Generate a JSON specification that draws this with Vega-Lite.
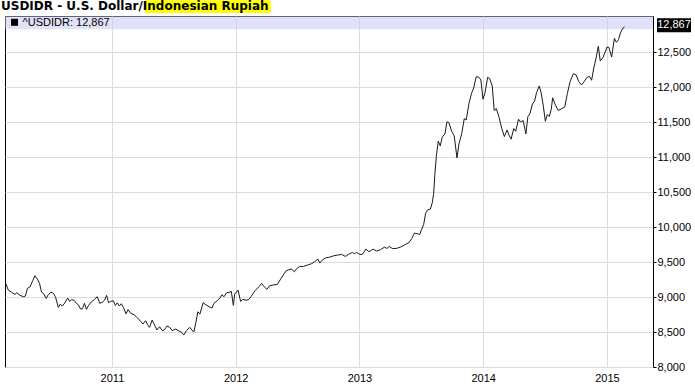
{
  "$schema": "https://vega.github.io/schema/vega-lite/v6.json",
  "width": 648,
  "height": 351,
  "autosize": {"type": "none"},
  "padding": {"left": 5, "top": 16, "right": 42, "bottom": 20},
  "background": "#ffffff",
  "config": {
    "view": {"stroke": "#000000", "strokeWidth": 1},
    "axis": {"labelFont": "Liberation Sans", "labelFontSize": 11, "labelColor": "#000000", "gridColor": "#dcdcdc", "gridWidth": 1, "domain": false}
  },
  "datasets": {
    "usdidr": [
      {"t": 2010.144, "v": 9186}, {"t": 2010.163, "v": 9100}, {"t": 2010.190, "v": 9067}, {"t": 2010.217, "v": 9038},
      {"t": 2010.231, "v": 9062}, {"t": 2010.258, "v": 9024}, {"t": 2010.285, "v": 9005}, {"t": 2010.301, "v": 9014},
      {"t": 2010.317, "v": 9124}, {"t": 2010.339, "v": 9148}, {"t": 2010.361, "v": 9238}, {"t": 2010.377, "v": 9305},
      {"t": 2010.398, "v": 9257}, {"t": 2010.415, "v": 9195}, {"t": 2010.431, "v": 9071}, {"t": 2010.447, "v": 9052},
      {"t": 2010.469, "v": 8981}, {"t": 2010.485, "v": 9033}, {"t": 2010.507, "v": 9071}, {"t": 2010.528, "v": 9052},
      {"t": 2010.545, "v": 8995}, {"t": 2010.567, "v": 8852}, {"t": 2010.583, "v": 8900}, {"t": 2010.599, "v": 8871},
      {"t": 2010.621, "v": 8919}, {"t": 2010.642, "v": 8986}, {"t": 2010.659, "v": 8938}, {"t": 2010.675, "v": 8967},
      {"t": 2010.697, "v": 8948}, {"t": 2010.713, "v": 8910}, {"t": 2010.729, "v": 8890}, {"t": 2010.746, "v": 8829},
      {"t": 2010.762, "v": 8833}, {"t": 2010.778, "v": 8910}, {"t": 2010.794, "v": 8824}, {"t": 2010.811, "v": 8881},
      {"t": 2010.833, "v": 8929}, {"t": 2010.859, "v": 8967}, {"t": 2010.881, "v": 9005}, {"t": 2010.902, "v": 8910},
      {"t": 2010.924, "v": 8929}, {"t": 2010.941, "v": 8957}, {"t": 2010.957, "v": 9024}, {"t": 2010.973, "v": 8919},
      {"t": 2010.989, "v": 8938}, {"t": 2011.011, "v": 8948}, {"t": 2011.028, "v": 8881}, {"t": 2011.044, "v": 8919},
      {"t": 2011.060, "v": 8871}, {"t": 2011.076, "v": 8905}, {"t": 2011.093, "v": 8852}, {"t": 2011.114, "v": 8760},
      {"t": 2011.130, "v": 8820}, {"t": 2011.152, "v": 8767}, {"t": 2011.179, "v": 8748}, {"t": 2011.207, "v": 8700},
      {"t": 2011.233, "v": 8652}, {"t": 2011.250, "v": 8614}, {"t": 2011.272, "v": 8662}, {"t": 2011.288, "v": 8605},
      {"t": 2011.304, "v": 8567}, {"t": 2011.325, "v": 8671}, {"t": 2011.341, "v": 8614}, {"t": 2011.363, "v": 8529},
      {"t": 2011.385, "v": 8576}, {"t": 2011.407, "v": 8519}, {"t": 2011.423, "v": 8529}, {"t": 2011.445, "v": 8586},
      {"t": 2011.467, "v": 8567}, {"t": 2011.488, "v": 8519}, {"t": 2011.515, "v": 8543}, {"t": 2011.542, "v": 8514},
      {"t": 2011.564, "v": 8495}, {"t": 2011.580, "v": 8457}, {"t": 2011.602, "v": 8519}, {"t": 2011.629, "v": 8567},
      {"t": 2011.646, "v": 8529}, {"t": 2011.662, "v": 8500}, {"t": 2011.678, "v": 8633}, {"t": 2011.694, "v": 8790},
      {"t": 2011.711, "v": 8757}, {"t": 2011.737, "v": 8919}, {"t": 2011.759, "v": 8890}, {"t": 2011.786, "v": 8862},
      {"t": 2011.808, "v": 8843}, {"t": 2011.824, "v": 8910}, {"t": 2011.851, "v": 8948}, {"t": 2011.873, "v": 8986},
      {"t": 2011.889, "v": 9033}, {"t": 2011.906, "v": 9005}, {"t": 2011.927, "v": 9062}, {"t": 2011.954, "v": 9071},
      {"t": 2011.965, "v": 9081}, {"t": 2011.981, "v": 8881}, {"t": 2011.992, "v": 9043}, {"t": 2012.019, "v": 9100},
      {"t": 2012.040, "v": 8938}, {"t": 2012.056, "v": 8967}, {"t": 2012.083, "v": 8957}, {"t": 2012.103, "v": 8960},
      {"t": 2012.125, "v": 9010}, {"t": 2012.156, "v": 9090}, {"t": 2012.188, "v": 9148}, {"t": 2012.210, "v": 9195},
      {"t": 2012.230, "v": 9148}, {"t": 2012.252, "v": 9110}, {"t": 2012.273, "v": 9162}, {"t": 2012.299, "v": 9171},
      {"t": 2012.337, "v": 9181}, {"t": 2012.363, "v": 9257}, {"t": 2012.384, "v": 9314}, {"t": 2012.405, "v": 9371},
      {"t": 2012.426, "v": 9390}, {"t": 2012.452, "v": 9400}, {"t": 2012.474, "v": 9362}, {"t": 2012.490, "v": 9400},
      {"t": 2012.516, "v": 9438}, {"t": 2012.548, "v": 9438}, {"t": 2012.579, "v": 9457}, {"t": 2012.611, "v": 9476},
      {"t": 2012.638, "v": 9505}, {"t": 2012.664, "v": 9543}, {"t": 2012.680, "v": 9486}, {"t": 2012.702, "v": 9533},
      {"t": 2012.728, "v": 9562}, {"t": 2012.760, "v": 9571}, {"t": 2012.791, "v": 9590}, {"t": 2012.823, "v": 9600},
      {"t": 2012.855, "v": 9610}, {"t": 2012.887, "v": 9581}, {"t": 2012.918, "v": 9619}, {"t": 2012.944, "v": 9638},
      {"t": 2012.960, "v": 9619}, {"t": 2012.976, "v": 9638}, {"t": 2013.003, "v": 9610}, {"t": 2013.024, "v": 9610},
      {"t": 2013.052, "v": 9686}, {"t": 2013.078, "v": 9648}, {"t": 2013.110, "v": 9686}, {"t": 2013.137, "v": 9657},
      {"t": 2013.169, "v": 9676}, {"t": 2013.202, "v": 9714}, {"t": 2013.223, "v": 9695}, {"t": 2013.240, "v": 9724},
      {"t": 2013.266, "v": 9695}, {"t": 2013.298, "v": 9695}, {"t": 2013.331, "v": 9714}, {"t": 2013.363, "v": 9743},
      {"t": 2013.401, "v": 9781}, {"t": 2013.423, "v": 9838}, {"t": 2013.444, "v": 9914}, {"t": 2013.471, "v": 9905},
      {"t": 2013.487, "v": 9895}, {"t": 2013.503, "v": 9971}, {"t": 2013.519, "v": 10038}, {"t": 2013.535, "v": 10200},
      {"t": 2013.552, "v": 10248}, {"t": 2013.573, "v": 10257}, {"t": 2013.589, "v": 10352}, {"t": 2013.600, "v": 10486},
      {"t": 2013.610, "v": 10771}, {"t": 2013.621, "v": 11010}, {"t": 2013.637, "v": 11229}, {"t": 2013.653, "v": 11162},
      {"t": 2013.669, "v": 11286}, {"t": 2013.691, "v": 11333}, {"t": 2013.707, "v": 11505}, {"t": 2013.723, "v": 11495},
      {"t": 2013.745, "v": 11371}, {"t": 2013.766, "v": 11305}, {"t": 2013.788, "v": 10990}, {"t": 2013.804, "v": 11190},
      {"t": 2013.826, "v": 11333}, {"t": 2013.847, "v": 11552}, {"t": 2013.863, "v": 11533}, {"t": 2013.885, "v": 11771},
      {"t": 2013.906, "v": 11914}, {"t": 2013.923, "v": 11990}, {"t": 2013.944, "v": 12152}, {"t": 2013.965, "v": 12143},
      {"t": 2013.981, "v": 12105}, {"t": 2013.998, "v": 11829}, {"t": 2014.014, "v": 11914}, {"t": 2014.036, "v": 12143},
      {"t": 2014.052, "v": 12124}, {"t": 2014.073, "v": 12019}, {"t": 2014.089, "v": 11667}, {"t": 2014.106, "v": 11695},
      {"t": 2014.128, "v": 11571}, {"t": 2014.150, "v": 11410}, {"t": 2014.171, "v": 11295}, {"t": 2014.193, "v": 11390},
      {"t": 2014.209, "v": 11314}, {"t": 2014.225, "v": 11257}, {"t": 2014.247, "v": 11410}, {"t": 2014.263, "v": 11371},
      {"t": 2014.285, "v": 11543}, {"t": 2014.301, "v": 11505}, {"t": 2014.323, "v": 11524}, {"t": 2014.345, "v": 11333},
      {"t": 2014.361, "v": 11581}, {"t": 2014.377, "v": 11619}, {"t": 2014.398, "v": 11762}, {"t": 2014.415, "v": 11800},
      {"t": 2014.431, "v": 11924}, {"t": 2014.453, "v": 12019}, {"t": 2014.469, "v": 11914}, {"t": 2014.485, "v": 11743},
      {"t": 2014.502, "v": 11514}, {"t": 2014.518, "v": 11610}, {"t": 2014.534, "v": 11581}, {"t": 2014.550, "v": 11686},
      {"t": 2014.561, "v": 11850}, {"t": 2014.580, "v": 11760}, {"t": 2014.605, "v": 11670}, {"t": 2014.632, "v": 11690},
      {"t": 2014.659, "v": 11719}, {"t": 2014.680, "v": 11910}, {"t": 2014.702, "v": 12081}, {"t": 2014.729, "v": 12195},
      {"t": 2014.751, "v": 12176}, {"t": 2014.772, "v": 12081}, {"t": 2014.794, "v": 12033}, {"t": 2014.816, "v": 12081},
      {"t": 2014.837, "v": 12138}, {"t": 2014.859, "v": 12157}, {"t": 2014.876, "v": 12100}, {"t": 2014.892, "v": 12262},
      {"t": 2014.914, "v": 12433}, {"t": 2014.930, "v": 12586}, {"t": 2014.946, "v": 12376}, {"t": 2014.967, "v": 12424},
      {"t": 2014.989, "v": 12519}, {"t": 2015.000, "v": 12576}, {"t": 2015.016, "v": 12567}, {"t": 2015.038, "v": 12433},
      {"t": 2015.060, "v": 12700}, {"t": 2015.076, "v": 12643}, {"t": 2015.093, "v": 12681}, {"t": 2015.109, "v": 12776},
      {"t": 2015.125, "v": 12833}, {"t": 2015.141, "v": 12867}
    ]
  },
  "layer": [
    {
      "data": {"values": [{}]},
      "mark": {"type": "rect", "fill": "#c3c3f0", "opacity": 0.5, "clip": false},
      "encoding": {
        "x": {"datum": 2010.136, "type": "quantitative", "scale": {"domain": [2010.136, 2015.372], "nice": false, "zero": false}, "axis": {"title": null, "values": [2011, 2012, 2013, 2014, 2015], "format": "d", "grid": true, "ticks": false, "labelPadding": 5}},
        "x2": {"datum": 2015.372},
        "y": {"datum": 12829, "type": "quantitative", "scale": {"domain": [8000, 13019], "nice": false, "zero": false}, "axis": {"title": null, "orient": "right", "values": [8000, 8500, 9000, 9500, 10000, 10500, 11000, 11500, 12000, 12500], "format": ",.0f", "grid": true, "ticks": true, "tickSize": 3, "tickColor": "#000000", "labelPadding": 1}},
        "y2": {"datum": 13019}
      }
    },
    {
      "data": {"name": "usdidr"},
      "mark": {"type": "line", "color": "#1a1a1a", "strokeWidth": 1},
      "encoding": {
        "x": {"field": "t", "type": "quantitative", "scale": {"domain": [2010.136, 2015.372], "nice": false, "zero": false}, "axis": {"title": null, "values": [2011, 2012, 2013, 2014, 2015], "format": "d", "grid": true, "ticks": false, "labelPadding": 5}},
        "y": {"field": "v", "type": "quantitative", "scale": {"domain": [8000, 13019], "nice": false, "zero": false}, "axis": {"title": null, "orient": "right", "values": [8000, 8500, 9000, 9500, 10000, 10500, 11000, 11500, 12000, 12500], "format": ",.0f", "grid": true, "ticks": true, "tickSize": 3, "tickColor": "#000000", "labelPadding": 1}}
      }
    },
    {
      "data": {"values": [{}]},
      "mark": {"type": "point", "shape": "square", "filled": true, "size": 49, "color": "#000000", "opacity": 1, "clip": false},
      "encoding": {
        "x": {"datum": 2010.213, "type": "quantitative", "scale": {"domain": [2010.136, 2015.372], "nice": false, "zero": false}, "axis": {"title": null, "values": [2011, 2012, 2013, 2014, 2015], "format": "d", "grid": true, "ticks": false, "labelPadding": 5}},
        "y": {"datum": 12929, "type": "quantitative", "scale": {"domain": [8000, 13019], "nice": false, "zero": false}, "axis": {"title": null, "orient": "right", "values": [8000, 8500, 9000, 9500, 10000, 10500, 11000, 11500, 12000, 12500], "format": ",.0f", "grid": true, "ticks": true, "tickSize": 3, "tickColor": "#000000", "labelPadding": 1}}
      }
    },
    {
      "data": {"values": [{}]},
      "mark": {"type": "text", "text": "^USDIDR: 12,867", "font": "Liberation Sans", "fontSize": 11, "color": "#000000", "align": "left", "baseline": "middle", "clip": false},
      "encoding": {
        "x": {"datum": 2010.278, "type": "quantitative", "scale": {"domain": [2010.136, 2015.372], "nice": false, "zero": false}, "axis": {"title": null, "values": [2011, 2012, 2013, 2014, 2015], "format": "d", "grid": true, "ticks": false, "labelPadding": 5}},
        "y": {"datum": 12921, "type": "quantitative", "scale": {"domain": [8000, 13019], "nice": false, "zero": false}, "axis": {"title": null, "orient": "right", "values": [8000, 8500, 9000, 9500, 10000, 10500, 11000, 11500, 12000, 12500], "format": ",.0f", "grid": true, "ticks": true, "tickSize": 3, "tickColor": "#000000", "labelPadding": 1}}
      }
    },
    {
      "data": {"values": [{}]},
      "mark": {"type": "rect", "fill": "#000000", "clip": false, "xOffset": 4, "x2Offset": 38},
      "encoding": {
        "x": {"datum": 2015.372, "type": "quantitative", "scale": {"domain": [2010.136, 2015.372], "nice": false, "zero": false}, "axis": {"title": null, "values": [2011, 2012, 2013, 2014, 2015], "format": "d", "grid": true, "ticks": false, "labelPadding": 5}},
        "x2": {"datum": 2015.372},
        "y": {"datum": 12986, "type": "quantitative", "scale": {"domain": [8000, 13019], "nice": false, "zero": false}, "axis": {"title": null, "orient": "right", "values": [8000, 8500, 9000, 9500, 10000, 10500, 11000, 11500, 12000, 12500], "format": ",.0f", "grid": true, "ticks": true, "tickSize": 3, "tickColor": "#000000", "labelPadding": 1}},
        "y2": {"datum": 12786}
      }
    },
    {
      "data": {"values": [{}]},
      "mark": {"type": "text", "text": "12,867", "font": "Liberation Sans", "fontSize": 11, "color": "#ffffff", "align": "center", "baseline": "middle", "dx": 21, "clip": false},
      "encoding": {
        "x": {"datum": 2015.372, "type": "quantitative", "scale": {"domain": [2010.136, 2015.372], "nice": false, "zero": false}, "axis": {"title": null, "values": [2011, 2012, 2013, 2014, 2015], "format": "d", "grid": true, "ticks": false, "labelPadding": 5}},
        "y": {"datum": 12886, "type": "quantitative", "scale": {"domain": [8000, 13019], "nice": false, "zero": false}, "axis": {"title": null, "orient": "right", "values": [8000, 8500, 9000, 9500, 10000, 10500, 11000, 11500, 12000, 12500], "format": ",.0f", "grid": true, "ticks": true, "tickSize": 3, "tickColor": "#000000", "labelPadding": 1}}
      }
    },
    {
      "data": {"values": [{}]},
      "mark": {"type": "rect", "fill": "#ffff00", "clip": false},
      "encoding": {
        "x": {"datum": 2011.267, "type": "quantitative", "scale": {"domain": [2010.136, 2015.372], "nice": false, "zero": false}, "axis": {"title": null, "values": [2011, 2012, 2013, 2014, 2015], "format": "d", "grid": true, "ticks": false, "labelPadding": 5}},
        "x2": {"datum": 2012.283},
        "y": {"datum": 13061, "type": "quantitative", "scale": {"domain": [8000, 13019], "nice": false, "zero": false}, "axis": {"title": null, "orient": "right", "values": [8000, 8500, 9000, 9500, 10000, 10500, 11000, 11500, 12000, 12500], "format": ",.0f", "grid": true, "ticks": true, "tickSize": 3, "tickColor": "#000000", "labelPadding": 1}},
        "y2": {"datum": 13243}
      }
    },
    {
      "data": {"values": [{}]},
      "mark": {"type": "text", "text": "USDIDR - U.S. Dollar/Indonesian Rupiah", "font": "DejaVu Sans", "fontWeight": "bold", "fontSize": 12, "color": "#000000", "align": "left", "baseline": "alphabetic", "dx": -4, "clip": false},
      "encoding": {
        "x": {"datum": 2010.136, "type": "quantitative", "scale": {"domain": [2010.136, 2015.372], "nice": false, "zero": false}, "axis": {"title": null, "values": [2011, 2012, 2013, 2014, 2015], "format": "d", "grid": true, "ticks": false, "labelPadding": 5}},
        "y": {"datum": 13100, "type": "quantitative", "scale": {"domain": [8000, 13019], "nice": false, "zero": false}, "axis": {"title": null, "orient": "right", "values": [8000, 8500, 9000, 9500, 10000, 10500, 11000, 11500, 12000, 12500], "format": ",.0f", "grid": true, "ticks": true, "tickSize": 3, "tickColor": "#000000", "labelPadding": 1}}
      }
    }
  ]
}
